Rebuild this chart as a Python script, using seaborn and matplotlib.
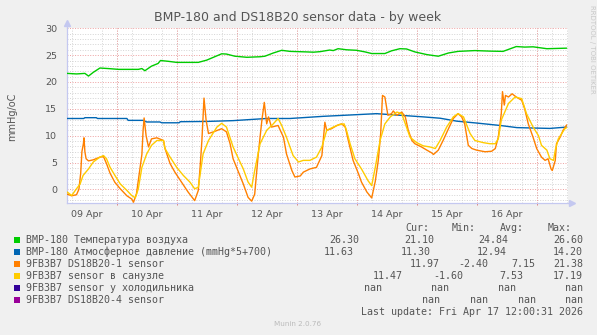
import numpy as np
import pandas as pd
import matplotlib
matplotlib.use("Agg")
import matplotlib.pyplot as plt
from matplotlib.patches import Rectangle
from matplotlib.transforms import blended_transform_factory
import seaborn as sns

sns.set_theme(style="white")
plt.rcParams["font.family"] = ["DejaVu Sans"]

TITLE = "BMP-180 and DS18B20 sensor data - by week"
Y_LABEL = "mmHg/oC"
DAY_LABELS = ["09 Apr", "10 Apr", "11 Apr", "12 Apr", "13 Apr", "14 Apr", "15 Apr", "16 Apr"]

# time is measured in days since 09 Apr 00:00
temp_days = [0.175, 0.33, 0.47, 0.53, 0.61, 0.72, 0.86, 1.03, 1.36, 1.42, 1.47, 1.58, 1.69, 1.73,
             1.86, 2.0, 2.36, 2.5, 2.75, 2.83, 2.97, 3.17, 3.39, 3.47, 3.61, 3.75, 3.89, 4.17,
             4.28, 4.39, 4.55, 4.61, 4.69, 4.83, 5.0, 5.14, 5.25, 5.47, 5.58, 5.72, 5.83, 5.97,
             6.17, 6.36, 6.53, 6.69, 6.97, 7.22, 7.44, 7.66, 7.8, 7.94, 8.17, 8.5]
temp_vals = [21.6, 21.5, 21.6, 21.1, 21.8, 22.6, 22.5, 22.35, 22.35, 22.5, 22.1, 22.95, 23.45, 24.0,
             23.85, 23.65, 23.65, 24.07, 25.25, 25.2, 24.8, 24.6, 24.7, 24.8, 25.4, 25.9, 25.7, 25.6,
             25.55, 25.65, 25.95, 25.85, 26.2, 26.0, 25.9, 25.6, 25.3, 25.3, 25.8, 26.2, 26.15, 25.6,
             25.1, 24.8, 25.4, 25.7, 25.85, 25.75, 25.7, 26.6, 26.5, 26.55, 26.2, 26.3]

press_days = [0.175, 0.45, 0.47, 0.66, 0.68, 1.17, 1.19, 1.44, 1.5, 1.72, 1.75, 2.04, 2.06, 2.5,
              2.94, 3.22, 3.5, 3.89, 4.44, 4.89, 5.33, 5.72, 6.11, 6.39, 6.67, 7.0, 7.39, 7.67,
              8.22, 8.5]
press_vals = [13.2, 13.2, 13.35, 13.35, 13.2, 13.2, 12.85, 12.85, 12.55, 12.55, 12.4, 12.4, 12.6, 12.65,
              12.8, 13.0, 13.2, 13.2, 13.6, 13.85, 14.1, 13.8, 13.5, 13.25, 12.7, 12.35, 11.9, 11.5,
              11.35, 11.6]

s1_days = [0.175, 0.25, 0.33, 0.37, 0.40, 0.42, 0.445, 0.455, 0.47, 0.49, 0.53, 0.61, 0.72, 0.78,
           0.83, 0.89, 0.97, 1.06, 1.17, 1.25, 1.28, 1.33, 1.39, 1.42, 1.44, 1.457, 1.49, 1.53,
           1.58, 1.67, 1.78, 1.805, 1.89, 1.97, 2.08, 2.19, 2.28, 2.30, 2.36, 2.39, 2.42, 2.455,
           2.49, 2.53, 2.61, 2.75, 2.83, 2.89, 2.94, 3.03, 3.11, 3.19, 3.25, 3.30, 3.36, 3.42,
           3.46, 3.50, 3.53, 3.58, 3.69, 3.78, 3.83, 3.92, 3.97, 4.06, 4.11, 4.22, 4.33, 4.42,
           4.47, 4.50, 4.58, 4.67, 4.75, 4.81, 4.86, 4.94, 5.03, 5.08, 5.17, 5.25, 5.31, 5.36,
           5.40, 5.43, 5.47, 5.52, 5.58, 5.61, 5.67, 5.75, 5.81, 5.86, 5.92, 5.97, 6.08, 6.17,
           6.25, 6.28, 6.36, 6.44, 6.53, 6.61, 6.69, 6.75, 6.80, 6.86, 6.92, 7.00, 7.14, 7.25,
           7.31, 7.36, 7.41, 7.43, 7.46, 7.48, 7.53, 7.59, 7.66, 7.75, 7.80, 7.86, 7.94, 8.00,
           8.08, 8.14, 8.19, 8.24, 8.26, 8.31, 8.33, 8.39, 8.44, 8.50]
s1_vals = [-0.9, -1.2, -1.0, 0.0, 3.0, 7.0, 8.5, 9.6, 7.0, 5.7, 5.3, 5.5, 6.0, 6.1,
           4.8, 3.0, 1.3, 0.1, -1.2, -1.8, -2.4, -0.8, 4.1, 6.5, 11.0, 13.3, 10.0, 7.9,
           9.4, 9.6, 9.1, 7.6, 4.8, 3.2, 1.35, -0.5, -1.8, -2.1, -0.2, 4.1, 9.1, 17.0,
           12.9, 10.4, 10.7, 11.3, 10.7, 8.5, 5.7, 3.2, 1.0, -1.5, -2.2, -0.9, 6.6, 12.9,
           16.2, 12.2, 13.5, 11.6, 11.9, 9.7, 6.6, 3.5, 2.3, 2.5, 3.2, 3.8, 4.1, 6.3,
           12.5, 11.0, 11.3, 11.9, 12.2, 11.6, 9.1, 5.4, 2.9, 1.35, -0.5, -1.6, 1.5, 5.4,
           10.4, 17.5, 17.2, 13.8, 14.1, 14.6, 13.8, 14.4, 13.5, 11.0, 9.1, 8.5, 7.9, 7.3,
           6.8, 6.5, 7.3, 9.1, 11.3, 13.2, 14.1, 13.5, 12.2, 8.2, 7.6, 7.3, 7.0, 7.1,
           7.6, 9.7, 14.1, 18.2, 15.7, 17.5, 17.2, 17.8, 17.2, 16.6, 15.0, 12.2, 9.7, 7.6,
           6.0, 5.4, 5.7, 3.8, 3.5, 5.4, 8.5, 9.7, 11.0, 12.0]

s2_days = [0.175, 0.25, 0.31, 0.39, 0.44, 0.53, 0.61, 0.72, 0.78, 0.83, 0.89, 0.97, 1.06, 1.17,
           1.25, 1.31, 1.36, 1.42, 1.50, 1.58, 1.67, 1.78, 1.805, 1.89, 2.00, 2.11, 2.22, 2.30,
           2.36, 2.44, 2.53, 2.67, 2.75, 2.83, 2.94, 3.03, 3.11, 3.19, 3.25, 3.30, 3.39, 3.50,
           3.61, 3.69, 3.75, 3.83, 3.94, 4.03, 4.11, 4.22, 4.33, 4.42, 4.50, 4.61, 4.72, 4.79,
           4.83, 4.89, 4.97, 5.08, 5.19, 5.25, 5.31, 5.39, 5.47, 5.56, 5.67, 5.75, 5.83, 5.89,
           6.00, 6.11, 6.22, 6.31, 6.39, 6.50, 6.61, 6.69, 6.78, 6.89, 6.97, 7.11, 7.22, 7.31,
           7.36, 7.41, 7.53, 7.64, 7.75, 7.83, 7.94, 8.03, 8.08, 8.17, 8.22, 8.28, 8.31, 8.36,
           8.47, 8.50]
s2_vals = [-0.5, -1.15, -0.2, 1.0, 2.6, 3.8, 5.1, 6.0, 6.3, 5.7, 4.1, 2.6, 1.0, -0.2,
           -1.15, -1.6, 0.1, 4.1, 6.6, 8.2, 9.1, 9.1, 7.6, 6.0, 4.1, 2.6, 1.35, 0.1,
           0.4, 6.6, 9.1, 11.6, 12.3, 11.6, 7.9, 5.7, 3.8, 1.35, 0.4, 3.5, 8.5, 11.0,
           12.2, 13.2, 11.9, 9.7, 6.3, 5.1, 5.4, 5.4, 6.0, 7.9, 11.0, 11.6, 12.1, 12.2,
           11.0, 8.5, 5.7, 3.8, 1.6, 0.7, 4.1, 9.1, 12.2, 13.5, 14.4, 14.1, 11.6, 9.7,
           8.7, 8.1, 7.9, 7.6, 9.1, 11.6, 13.5, 14.1, 13.5, 10.4, 9.1, 8.7, 8.5, 8.5,
           9.4, 12.9, 16.0, 17.2, 16.9, 14.1, 11.6, 10.0, 8.2, 7.3, 5.7, 5.4, 7.3, 9.4,
           11.3, 11.5]

SERIES_NAMES = ["BMP-180 Температура воздуха",
                "BMP-180 Атмосферное давление (mmHg*5+700)",
                "9FB3B7 DS18B20-1 sensor",
                "9FB3B7 sensor в санузле",
                "9FB3B7 sensor у холодильника",
                "9FB3B7 DS18B20-4 sensor"]
SERIES_COLORS = ["#00CC00", "#0066B3", "#FF8000", "#FFCC00", "#330099", "#990099"]
STAT_HEADERS = ["Cur:", "Min:", "Avg:", "Max:"]
STATS = [["26.30", "21.10", "24.84", "26.60"],
         ["11.63", "11.30", "12.94", "14.20"],
         ["11.97", "-2.40", "7.15", "21.38"],
         ["11.47", "-1.60", "7.53", "17.19"],
         ["nan", "nan", "nan", "nan"],
         ["nan", "nan", "nan", "nan"]]
LAST_UPDATE = "Last update: Fri Apr 17 12:00:31 2026"

W, H = 597, 335
BG = "#F0F0F0"
TXT = "#555555"
MONO = ["DejaVu Sans Mono"]

fig = plt.figure(figsize=(W / 100, H / 100), dpi=100, facecolor=BG)
px = lambda x: x / W
py = lambda y: 1 - y / H

top, bottom, left, right = 28.3, 202.5, 67.0, 568.0
ax = fig.add_axes([px(left), py(bottom), px(right - left), (bottom - top) / H])
ax.set_facecolor("white")

frames = [
    pd.DataFrame({"day": temp_days, "value": temp_vals, "series": SERIES_NAMES[0]}),
    pd.DataFrame({"day": press_days, "value": press_vals, "series": SERIES_NAMES[1]}),
    pd.DataFrame({"day": s1_days, "value": s1_vals, "series": SERIES_NAMES[2]}),
    pd.DataFrame({"day": s2_days, "value": s2_vals, "series": SERIES_NAMES[3]}),
]
data = pd.concat(frames, ignore_index=True)
sns.lineplot(data=data, x="day", y="value", hue="series",
             hue_order=SERIES_NAMES[:4], palette=SERIES_COLORS[:4],
             estimator=None, sort=False, lw=1.0, legend=False, ax=ax, zorder=3)

ax.set_xlim(0.1717, 8.522)
ax.set_ylim(-2.45, 30)
ax.set_xlabel("")
ax.set_ylabel("")

# grid: gray dotted minor lines, red dotted major lines
dot = (0, (1, 1.6))
ax.set_yticks(range(0, 31, 5))
ax.set_yticks(range(-2, 31), minor=True)
ax.set_xticks([d + 0.5 for d in range(len(DAY_LABELS))], DAY_LABELS)
ax.set_xticks(np.arange(0.25, 8.52, 0.25), minor=True)
ax.grid(False)
ax.grid(which="minor", axis="both", color="#D4D4D4", ls=dot, lw=0.7, zorder=0)
ax.grid(which="major", axis="y", color="#EDA0A0", ls=dot, lw=0.7, zorder=1)
ax.vlines(range(1, 9), -2.45, 30, colors="#EDA0A0", linestyles=dot, lw=0.7, zorder=1)
ax.set_axisbelow(True)

ax.tick_params(axis="x", which="major", length=0, pad=5.5, labelsize=6.8, labelcolor=TXT)
ax.tick_params(axis="y", which="major", length=2, width=0.7, color="#EDA0A0", pad=5,
               labelsize=6.8, labelcolor=TXT, direction="out")
ax.tick_params(which="minor", length=1.5, width=0.6, color="#C8C8C8", direction="out")
xt = blended_transform_factory(ax.transData, ax.transAxes)
ax.vlines(range(1, 9), -0.015, 0.0, transform=xt, colors="#E08080", lw=0.7, clip_on=False)

axis_col = "#C4C8F0"
for s in ["top", "right"]:
    ax.spines[s].set_visible(False)
for s in ["left", "bottom"]:
    ax.spines[s].set_color(axis_col)
    ax.spines[s].set_linewidth(0.9)
ax.plot([0, 0], [1, 1.03], transform=ax.transAxes, color=axis_col, lw=0.9, clip_on=False)
ax.plot([0], [1.03], marker="^", ms=4, color=axis_col, transform=ax.transAxes, clip_on=False)
ax.plot([1, 1.008], [0, 0], transform=ax.transAxes, color=axis_col, lw=0.9, clip_on=False)
ax.plot([1.008], [0], marker=">", ms=4, color=axis_col, transform=ax.transAxes, clip_on=False)

fig.text(px(298), py(18), TITLE, ha="center", va="center", fontsize=9, color=TXT)
fig.text(px(12), py(117), Y_LABEL, ha="center", va="center", rotation=90, fontsize=7, color=TXT)
fig.text(px(592), py(5), "RRDTOOL / TOBI OETIKER", ha="center", va="top", rotation=-90,
         fontsize=5, color="#C8C8C8")
fig.text(px(298), py(324), "Munin 2.0.76", ha="center", va="center", fontsize=5.2, color="#BBBBBB")

# legend with statistics columns
row_y = [240, 252, 264, 276, 288, 300]
stat_right = [[359, 434, 508, 583],
              [354, 431, 507, 583],
              [440, 488, 535, 583],
              [403, 463, 523, 583],
              [382, 449, 516, 583],
              [440, 488, 536, 583]]
for hx, h in zip([405, 452, 500, 548], STAT_HEADERS):
    fig.text(px(hx), py(228), h, ha="left", va="center", fontsize=7.2, family=MONO, color=TXT)
for i, (name, col) in enumerate(zip(SERIES_NAMES, SERIES_COLORS)):
    y = row_y[i]
    fig.add_artist(Rectangle((px(14), py(y + 3)), 6 / W, 6 / H, transform=fig.transFigure,
                             facecolor=col, edgecolor="none"))
    fig.text(px(26.5), py(y), name, ha="left", va="center", fontsize=7.2, family=MONO, color=TXT)
    for xr, v in zip(stat_right[i], STATS[i]):
        fig.text(px(xr), py(y), v, ha="right", va="center", fontsize=7.2, family=MONO, color=TXT)
fig.text(px(583), py(312), LAST_UPDATE, ha="right", va="center", fontsize=7.2, family=MONO, color=TXT)

fig.savefig("out.png", dpi=100, facecolor=BG)
